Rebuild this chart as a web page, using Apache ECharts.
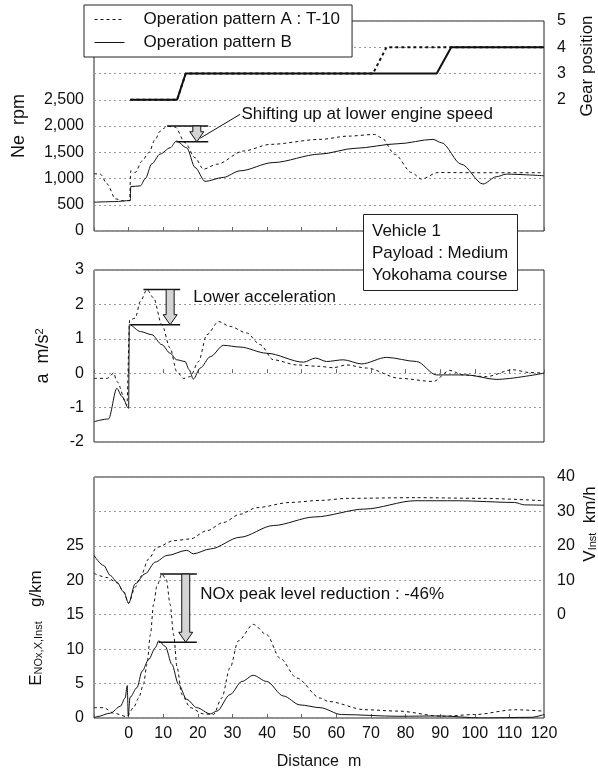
<!DOCTYPE html>
<html>
<head>
<meta charset="utf-8">
<title>Operation pattern A / B - Vehicle 1</title>
<script src="https://cdn.jsdelivr.net/npm/echarts@6/dist/echarts.min.js"></script>
<style>
html, body { margin: 0; padding: 0; background: #fff; }
#chart { width: 598px; height: 771px; }
</style>
</head>
<body>
<div id="chart"></div>
<script>
// [distance m, value]
const neA = [[-10,1090],[-8.2,1084],[-6.2,895],[-3.8,612],[-1.5,575],[0.3,580],[0.6,1146],[1.9,1114],[3.9,1335],[5.8,1492],[7.7,1745],[9.1,1901],[11.1,1996],[13.5,1977],[16.3,1681],[19.2,1397],[21.6,1178],[25.5,1272],[33.2,1524],[40.9,1650],[55.3,1745],[63.4,1807],[71.1,1839],[73.1,1775],[76.9,1461],[81.7,1114],[84.6,989],[89.4,1114],[100,1110],[120,1110]];
const neB = [[-10,548],[-4,560],[0.5,580],[0.6,845],[3.4,860],[4.8,995],[6.7,1280],[9.1,1465],[12,1585],[13.8,1712],[16.8,1585],[19.2,1210],[22.1,945],[27.3,1020],[32.2,1146],[41.7,1303],[55.3,1465],[65.4,1575],[77.8,1662],[87.9,1745],[90.4,1681],[96.1,1272],[102.4,895],[106.2,1033],[109.1,1083],[120,1052]];
const gearA = [[0.5,2],[14,2],[16.5,3],[70.6,3],[74.5,4],[120,4]];
const gearB = [[0.5,2],[14,2],[16.5,3],[89,3],[93.2,4],[120,4]];

const accA = [[-10,-0.15],[-6.2,-0.15],[-4.3,0],[-3.4,-0.24],[-0.5,-0.92],[0.3,1.55],[1.9,1.6],[3.4,2.09],[5.3,2.43],[7.2,2.19],[9.6,1.41],[12,0.73],[13.9,0.05],[15.9,-0.15],[17.8,-0.1],[20.2,0.34],[22.6,1.12],[26,1.5],[29.3,1.36],[34.1,1.17],[38,0.83],[41.8,0.39],[48.6,0.24],[55,0.2],[59.1,0.16],[63,0.24],[68.7,0.15],[78.3,-0.15],[88,-0.24],[92.8,0.08],[96.6,-0.05],[103.3,-0.1],[111,0.1],[115.8,0.02],[120,0]];
const accB = [[-10,-1.41],[-5.8,-1.33],[-3.4,-0.44],[-1.9,-0.68],[0,-1.02],[0.2,1.41],[3.4,1.21],[6.7,1.12],[9.6,0.83],[12,0.58],[13.9,0.39],[16.3,0.34],[17.5,0.1],[18.7,-0.17],[20.7,0.15],[23.6,0.48],[27.4,0.81],[32.2,0.76],[39.9,0.58],[50.5,0.32],[54,0.44],[57.2,0.34],[62,0.39],[67.3,0.27],[74.5,0.46],[83.2,0.34],[88.9,-0.05],[97.6,-0.05],[106.2,-0.18],[120,0]];

const noxA = [[-10,1.5],[-7.2,1.5],[-4.3,0.7],[-0.5,0.2],[1.4,1.5],[2.9,2.9],[4.3,4.9],[5.3,7.8],[6.3,12.1],[7.2,16.5],[8.2,19.2],[9.6,20.9],[10.9,20.1],[12,16.5],[13,12.1],[14,7.3],[15.4,3.4],[17.8,1.5],[21.6,0.6],[24.5,0.5],[26.9,2.9],[29.3,7.3],[31.7,11.2],[36,13.6],[39.9,12.1],[43.7,8.7],[48.6,5.8],[55.3,2.9],[57.7,2.4],[68.3,1.2],[77.9,1.0],[90.4,0.25],[100,0.5],[111.5,1.2],[120,1.0]];
const noxB = [[-10,0],[-9.1,0.2],[-5.3,0.7],[-2.4,1.7],[-1,2.9],[-0.4,4.7],[-0.1,0.3],[0.4,3.0],[2.4,4.4],[3.9,6.8],[5.8,8.5],[7.7,10.2],[8.7,11.2],[10.6,10.4],[12.5,7.8],[14.4,4.9],[16.8,2.7],[19.7,1.5],[23.6,0.6],[25.5,1.0],[29.3,3.4],[32.7,5.3],[36,6.2],[39.9,5.3],[44.7,3.2],[49.5,1.9],[55.3,1.5],[61.5,0.5],[77.9,0.25],[90,0.3],[101.9,0],[116.3,0.1],[120,0.5]];
const speedA = [[-10,12],[-6.2,10.8],[-3.4,9.3],[-1.4,6.6],[0,3.3],[1.9,8],[3.4,11],[5.8,16.2],[8.2,19.6],[13,21.5],[17.8,22],[22.6,24.4],[27.4,26.8],[32.2,29.2],[37,31.1],[46.6,32.6],[55.3,33.2],[63.4,33.8],[82.7,34],[101.9,33.8],[120,33.1]];
const speedB = [[-10,17.2],[-7.2,14.3],[-5.3,11.4],[-3.4,9.5],[-1.4,6.6],[0,3.3],[1.9,9],[4.8,11.9],[7.7,15.3],[11.1,17.2],[16.8,18.7],[18.7,17.7],[23.6,19.1],[32.2,22.5],[41.8,25.9],[53.8,28.4],[68.3,30.7],[82.7,33.1],[95.2,33.1],[111.5,32.6],[114.4,31.9],[120,31.8]];

// annotations: [arrow x, from, to, top bar x1, x2, bottom bar x1, x2]
const noteNe = [19.7, 2000, 1700, 11.1, 23, 13.8, 23];
const noteAcc = [12, 2.43, 1.41, 4.3, 14.9, 0.5, 14.9];
const noteNox = [16.5, 20.9, 11.0, 9.1, 19.7, 8.7, 19.7];

const nameA = 'Operation pattern A : T-10';
const nameB = 'Operation pattern B';
const FONT = '"Liberation Sans", Arial, sans-serif';

function commas(v) { return String(v).replace(/\B(?=(\d{3})+(?!\d))/g, ','); }

function line(name, data, xi, yi, dashed, width) {
  return {
    name: name, type: 'line', xAxisIndex: xi, yAxisIndex: yi, data: data,
    symbol: 'none', smooth: width > 1 ? false : 0.3, smoothMonotone: 'x',
    lineStyle: { color: '#111', width: width || 1, type: dashed ? [3, 3] : 'solid' },
    itemStyle: { color: '#111' }, z: 2
  };
}

// bars + hollow arrow + text, placed in data coordinates
function note(xi, yi, vals, text, textAt, pointer) {
  return {
    type: 'custom', xAxisIndex: xi, yAxisIndex: yi, silent: true, z: 3,
    data: [vals],
    renderItem: function (params, api) {
      const yt = api.value(1), yb = api.value(2);
      const top = api.coord([api.value(0), yt]), bot = api.coord([api.value(0), yb]);
      const t1 = api.coord([api.value(3), yt]), t2 = api.coord([api.value(4), yt]);
      const b1 = api.coord([api.value(5), yb]), b2 = api.coord([api.value(6), yb]);
      const cx = top[0], y0 = top[1], y1 = bot[1];
      const sw = 4, hw = 7, hl = 10;
      const kids = [
        { type: 'line', shape: { x1: t1[0], y1: t1[1], x2: t2[0], y2: t2[1] }, style: { stroke: '#111', lineWidth: 1.5 } },
        { type: 'line', shape: { x1: b1[0], y1: b1[1], x2: b2[0], y2: b2[1] }, style: { stroke: '#111', lineWidth: 1.5 } },
        { type: 'polygon', shape: { points: [[cx - sw, y0], [cx + sw, y0], [cx + sw, y1 - hl], [cx + hw, y1 - hl], [cx, y1], [cx - hw, y1 - hl], [cx - sw, y1 - hl]] },
          style: { fill: '#d4d4d4', stroke: '#111', lineWidth: 1 } }
      ];
      if (pointer) {
        const p1 = api.coord(pointer[0]), p2 = api.coord(pointer[1]);
        kids.push({ type: 'line', shape: { x1: p1[0], y1: p1[1], x2: p2[0], y2: p2[1] }, style: { stroke: '#111', lineWidth: 1 } });
      }
      const tp = api.coord(textAt);
      kids.push({ type: 'text', x: tp[0], y: tp[1], style: { text: text, fill: '#111', font: '17px ' + FONT, align: 'left', verticalAlign: 'middle' } });
      return { type: 'group', children: kids };
    }
  };
}

const grids = [
  { left: 94, right: 54, top: 21, height: 210 },
  { left: 94, right: 54, top: 270, height: 172 },
  { left: 94, right: 54, top: 477, height: 243 }
].map(g => Object.assign(g, { show: true, borderColor: '#222', borderWidth: 1, backgroundColor: 'transparent' }));

const gridLine = { show: true, lineStyle: { color: '#999', type: [2, 3], width: 1 } };
const lbl = { color: '#111', fontSize: 16, fontFamily: FONT };

function xAx(i, last) {
  return {
    type: 'value', gridIndex: i, min: -10, max: 120, interval: 10,
    axisLine: { show: false }, splitLine: { show: false },
    axisTick: { show: true, inside: true, length: 4, lineStyle: { color: '#666' } },
    axisLabel: last ? Object.assign({ margin: 8, formatter: v => v < 0 ? '' : String(v) }, lbl) : { show: false },
    name: last ? 'Distance  m' : '', nameLocation: 'middle', nameGap: 36,
    nameTextStyle: { color: '#111', fontSize: 16, fontFamily: FONT }
  };
}

const chart = echarts.init(document.getElementById('chart'));
chart.setOption({
  animation: false,
  backgroundColor: '#fff',
  textStyle: { fontFamily: FONT },
  grid: grids,
  legend: {
    data: [nameA, nameB], orient: 'vertical', left: 84, top: 5,
    padding: [6, 12, 6, 10], itemGap: 6, itemWidth: 30, itemHeight: 14,
    borderColor: '#222', borderWidth: 1, backgroundColor: '#fff',
    itemStyle: { opacity: 0 },
    lineStyle: { width: 1 },
    textStyle: { color: '#111', fontSize: 17, fontFamily: FONT, padding: [0, 0, 0, 14] },
    selectedMode: false, z: 10
  },
  title: {
    text: 'Vehicle 1\nPayload : Medium\nYokohama course',
    left: 363, top: 214, padding: [6, 10, 5, 9],
    borderColor: '#222', borderWidth: 1, backgroundColor: '#fff',
    textStyle: { color: '#111', fontSize: 17, fontWeight: 'normal', lineHeight: 22, fontFamily: FONT },
    z: 10
  },
  xAxis: [xAx(0, false), xAx(1, false), xAx(2, true)],
  yAxis: [
    { type: 'value', gridIndex: 0, min: 0, max: 4000, interval: 500,
      axisLine: { show: false }, axisTick: { show: false }, splitLine: gridLine,
      axisLabel: Object.assign({ margin: 10, formatter: v => v <= 2500 ? commas(v) : '' }, lbl),
      name: 'Ne  rpm', nameLocation: 'middle', nameGap: 66, nameRotate: 90,
      nameTextStyle: { color: '#111', fontSize: 18, fontFamily: FONT } },
    { type: 'value', gridIndex: 0, position: 'right', min: -3, max: 5, interval: 1,
      axisLine: { show: false }, axisTick: { show: false }, splitLine: { show: false },
      axisLabel: Object.assign({ margin: 13, formatter: v => v >= 2 ? String(v) : '' }, lbl) },
    { type: 'value', gridIndex: 1, min: -2, max: 3, interval: 1,
      axisLine: { show: false }, axisTick: { show: false }, splitLine: gridLine,
      axisLabel: Object.assign({ margin: 10 }, lbl),
      name: '{t|a  m/s}{p|2}', nameLocation: 'middle', nameGap: 42, nameRotate: 90,
      nameTextStyle: { color: '#111', fontFamily: FONT,
        rich: { t: { fontSize: 18, fontFamily: FONT, color: '#111' }, p: { fontSize: 11, fontFamily: FONT, color: '#111', verticalAlign: 'top' } } } },
    { type: 'value', gridIndex: 2, min: 0, max: 35, interval: 5,
      axisLine: { show: false }, axisTick: { show: false }, splitLine: gridLine,
      axisLabel: Object.assign({ margin: 10, formatter: v => v <= 25 ? String(v) : '' }, lbl) },
    { type: 'value', gridIndex: 2, position: 'right', min: -30, max: 40, interval: 10,
      axisLine: { show: false }, axisTick: { show: false }, splitLine: { show: false },
      axisLabel: Object.assign({ margin: 13, formatter: v => v >= 0 ? String(v) : '' }, lbl) }
  ],
  graphic: [
    { type: 'text', x: 587, y: 66, rotation: Math.PI / 2,
      style: { text: 'Gear position', fill: '#111', font: '17px ' + FONT, align: 'center', verticalAlign: 'middle' } },
    { type: 'text', x: 36, y: 628, rotation: Math.PI / 2,
      style: { text: '{b|E}{s|NOx,X,Inst}{b|   g/km}', align: 'center', verticalAlign: 'middle',
        rich: { b: { fontSize: 17, fontFamily: FONT, fill: '#111', color: '#111' },
                s: { fontSize: 11, fontFamily: FONT, fill: '#111', color: '#111', verticalAlign: 'bottom' } } } },
    { type: 'text', x: 590, y: 524, rotation: Math.PI / 2,
      style: { text: '{b|V}{s|Inst}{b|  km/h}', align: 'center', verticalAlign: 'middle',
        rich: { b: { fontSize: 17, fontFamily: FONT, fill: '#111', color: '#111' },
                s: { fontSize: 11, fontFamily: FONT, fill: '#111', color: '#111', verticalAlign: 'bottom' } } } }
  ],
  series: [
    line(nameA, neA, 0, 0, true, 1),
    line(nameB, neB, 0, 0, false, 1),
    line(nameA, gearA, 0, 1, true, 2),
    line(nameB, gearB, 0, 1, false, 2),
    line(nameA, accA, 1, 2, true, 1),
    line(nameB, accB, 1, 2, false, 1),
    line(nameA, noxA, 2, 3, true, 1),
    line(nameB, noxB, 2, 3, false, 1),
    line(nameA, speedA, 2, 4, true, 1),
    line(nameB, speedB, 2, 4, false, 1),
    note(0, 0, noteNe, 'Shifting up at lower engine speed', [32.6, 2230], [[20.7, 1769], [32.2, 2222]]),
    note(1, 2, noteAcc, 'Lower acceleration', [18.7, 2.22]),
    note(2, 3, noteNox, 'NOx peak level reduction : -46%', [20.7, 17.9])
  ]
});
</script>
</body>
</html>
